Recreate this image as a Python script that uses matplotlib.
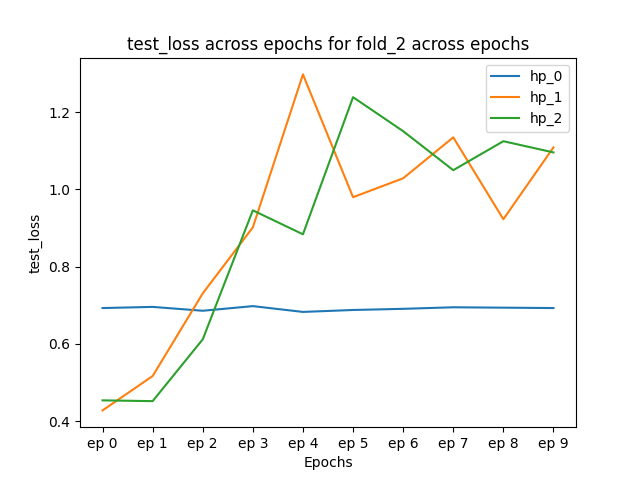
import matplotlib
matplotlib.use("Agg")
import matplotlib.pyplot as plt

epochs = ["ep 0", "ep 1", "ep 2", "ep 3", "ep 4", "ep 5", "ep 6", "ep 7", "ep 8", "ep 9"]
hp_0 = [0.693, 0.696, 0.686, 0.698, 0.683, 0.688, 0.691, 0.695, 0.694, 0.693]
hp_1 = [0.428, 0.517, 0.731, 0.902, 1.298, 0.980, 1.029, 1.135, 0.923, 1.109]
hp_2 = [0.454, 0.452, 0.612, 0.946, 0.884, 1.239, 1.151, 1.050, 1.125, 1.096]

fig, ax = plt.subplots(figsize=(6.4, 4.8), dpi=100)
ax.plot(epochs, hp_0, label="hp_0")
ax.plot(epochs, hp_1, label="hp_1")
ax.plot(epochs, hp_2, label="hp_2")
ax.set_title("test_loss across epochs for fold_2 across epochs")
ax.set_xlabel("Epochs")
ax.set_ylabel("test_loss")
ax.legend()
fig.savefig("out.png")
